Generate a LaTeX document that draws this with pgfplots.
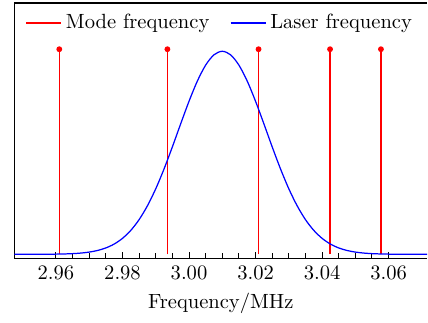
\documentclass[border=0pt]{standalone}
\usepackage{pgfplots}
\pgfplotsset{compat=1.18}
\begin{document}
\begin{tikzpicture}
\begin{axis}[
  scale only axis,
  width=200.8pt, height=124.3pt,
  xmin=2.9475, xmax=3.0716,
  ymin=-0.021, ymax=1.225,
  axis x line*=box, axis y line*=left,
  axis line style={line width=0.8pt},
  xtick={2.96,2.98,3.00,3.02,3.04,3.06},
  minor x tick num=3,
  xtick pos=bottom,
  ytick=\empty,
  tick align=inside,
  major tick length=3pt, minor tick length=2.6pt,
  every tick/.style={black, line width=0.5pt},
  xticklabel style={/pgf/number format/.cd, fixed, fixed zerofill, precision=2},
  xlabel={Frequency/MHz},
  legend columns=2,
  legend style={draw=none, fill=none, at={(0.5,0.99)}, anchor=north,
    /tikz/every even column/.append style={column sep=8pt}},
]
\addlegendimage{red, line width=0.6pt}
\addlegendentry{Mode frequency}
\addplot[ycomb, red, line width=0.6pt, mark=*, mark size=1.1pt, mark options={fill=red, draw=red}, forget plot] coordinates {
(2.961,1) (2.9935,1) (3.0209,1) (3.0424,1) (3.0577,1)
};
\addplot[blue, line width=0.6pt, smooth] coordinates {
(2.9475,0.0000) (2.9500,0.0000) (2.9525,0.0001) (2.9550,0.0002) (2.9575,0.0004)
(2.9600,0.0008) (2.9625,0.0017) (2.9650,0.0032) (2.9675,0.0060) (2.9700,0.0108)
(2.9725,0.0186) (2.9750,0.0310) (2.9775,0.0500) (2.9800,0.0778) (2.9825,0.1168)
(2.9850,0.1692) (2.9875,0.2367) (2.9900,0.3196) (2.9925,0.4166) (2.9950,0.5241)
(2.9975,0.6366) (3.0000,0.7462) (3.0025,0.8445) (3.0050,0.9225) (3.0075,0.9727)
(3.0100,0.9900)
(3.0125,0.9727) (3.0150,0.9225) (3.0175,0.8445) (3.0200,0.7462) (3.0225,0.6366)
(3.0250,0.5241) (3.0275,0.4166) (3.0300,0.3196) (3.0325,0.2367) (3.0350,0.1692)
(3.0375,0.1168) (3.0400,0.0778) (3.0425,0.0500) (3.0450,0.0310) (3.0475,0.0186)
(3.0500,0.0108) (3.0525,0.0060) (3.0550,0.0032) (3.0575,0.0017) (3.0600,0.0008)
(3.0625,0.0004) (3.0650,0.0002) (3.0675,0.0001) (3.0700,0.0000) (3.0725,0.0000)
};
\addlegendentry{Laser frequency}
\end{axis}
\path ([shift={(-7pt,-31pt)}]current axis.south west) ([shift={(0pt,1.5pt)}]current axis.north east);
\end{tikzpicture}
\end{document}
